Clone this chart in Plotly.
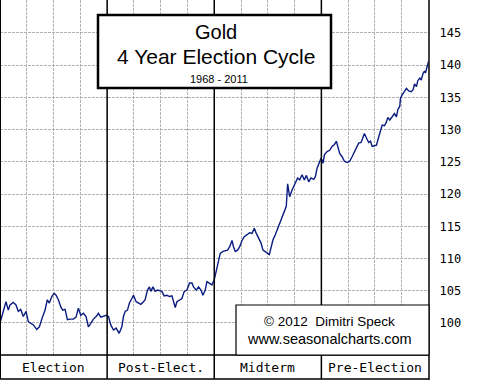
import plotly.graph_objects as go

# Position in the 4-year cycle, in months (0 = start of election year)
month = [0, 0.30, 0.67, 0.93, 1.12, 1.49, 1.79, 2.05, 2.32, 2.61, 2.92, 3.17, 3.44, 3.73, 4.12, 4.41, 4.68,
         5.05, 5.30, 5.53, 5.80, 6.06, 6.28, 6.54, 6.81, 7.03, 7.29, 7.55, 7.85, 8.22, 8.52, 8.78, 9.05,
         9.34, 9.64, 9.90, 10.17, 10.46, 10.77, 11.02, 11.29, 11.58, 11.89, 12.15, 12.41, 12.71, 13.01,
         13.35, 13.65, 13.83, 14.02, 14.28, 14.50, 14.77, 14.95, 15.25, 15.51, 15.78, 16.07, 16.26, 16.52,
         16.74, 16.90, 17.13, 17.38, 17.64, 18.13, 18.39, 18.70, 18.99, 19.26, 19.44, 19.63, 19.82, 20.11,
         20.38, 20.64, 20.94, 21.23, 21.50, 21.68, 21.98, 22.24, 22.51, 22.73, 22.99, 23.18, 23.47, 23.74,
         24.00, 24.22, 24.48, 24.67, 24.98, 25.23, 25.49, 25.72, 25.99, 26.16, 26.36, 26.61, 26.84, 27.11,
         27.36, 27.67, 27.96, 28.23, 28.49, 28.71, 28.97, 29.24, 29.46, 29.72, 29.98, 30.17, 30.36, 30.58,
         30.84, 31.03, 31.21, 31.59, 31.85, 32.07, 32.22, 32.45, 32.71, 33.08, 33.34, 33.57, 33.84, 34.09,
         34.32, 34.58, 34.84, 35.14, 35.33, 35.52, 35.81, 35.97, 36.19, 36.34, 36.64, 36.93, 37.20, 37.46,
         37.68, 37.83, 38.05, 38.32, 38.58, 38.88, 39.17, 39.44, 39.62, 39.93, 40.18, 40.45, 40.68, 40.82,
         41.05, 41.30, 41.50, 41.69, 41.94, 42.17, 42.43, 42.62, 42.81, 43.07, 43.29, 43.44, 43.66, 43.93,
         44.19, 44.41, 44.56, 44.78, 44.86, 45.05, 45.31, 45.53, 45.79, 46.06, 46.28, 46.43, 46.65, 46.80,
         47.02, 47.18, 47.41, 47.55, 47.66, 47.85, 48.00]

gold_index = [100.0, 101.5, 103.3, 102.0, 102.8, 103.2, 102.8, 101.8, 102.1, 101.0, 101.8, 100.2, 100.0, 99.7,
              99.0, 99.4, 100.6, 102.0, 103.6, 103.1, 104.1, 104.6, 104.3, 103.6, 102.5, 102.0, 102.1, 100.5,
              100.6, 100.6, 100.9, 102.3, 101.2, 101.5, 101.0, 99.4, 99.95, 100.6, 101.0, 101.5, 100.9, 101.0,
              101.2, 101.0, 99.7, 98.9, 99.2, 98.4, 99.4, 101.0, 101.8, 102.0, 103.1, 103.8, 104.3, 103.3,
              103.1, 102.9, 103.3, 103.6, 105.1, 105.6, 104.9, 105.6, 104.9, 105.1, 104.9, 104.2, 104.3, 104.1,
              104.2, 103.3, 102.4, 103.3, 103.6, 103.8, 104.9, 105.1, 106.2, 106.2, 105.6, 105.1, 105.6, 105.1,
              104.3, 105.1, 106.4, 106.1, 105.9, 106.7, 108.2, 109.5, 110.8, 111.1, 111.2, 111.3, 111.8, 112.8,
              111.8, 111.1, 111.3, 111.8, 112.8, 113.4, 113.7, 114.0, 113.9, 114.7, 113.9, 113.1, 112.4, 111.3,
              111.1, 110.8, 110.6, 111.6, 112.9, 113.7, 114.4, 115.2, 116.5, 117.3, 118.1, 121.6, 119.6, 120.6,
              121.9, 122.5, 122.2, 123.0, 122.2, 122.9, 121.9, 122.5, 122.3, 122.7, 124.0, 125.1, 125.6, 124.8,
              126.1, 126.6, 126.8, 127.4, 127.7, 128.2, 127.4, 126.3, 125.8, 125.1, 124.9, 125.1, 125.8, 126.3,
              127.0, 127.9, 128.0, 128.8, 129.4, 128.7, 128.0, 128.2, 127.4, 127.5, 127.6, 128.9, 129.7, 130.7,
              130.6, 131.2, 131.9, 131.5, 132.0, 132.5, 132.0, 133.1, 133.6, 134.9, 135.4, 135.9, 136.4, 136.0,
              135.9, 136.2, 137.1, 136.7, 137.6, 138.0, 137.7, 138.8, 139.1, 138.8, 139.8, 140.6]

phase_labels = ["Election", "Post-Elect.", "Midterm", "Pre-Election"]
phase_centers = [6, 18, 30, 42]
phase_bounds = [12, 24, 36]
y_ticks = [100, 105, 110, 115, 120, 125, 130, 135, 140, 145]

W, H = 480, 380
x_end = 428.5 / W
y_bot = 25 / H

fig = go.Figure()
fig.add_trace(go.Scatter(x=month, y=gold_index, mode="lines",
                         line=dict(color="#0b1c80", width=1.4), hoverinfo="skip",
                         showlegend=False))

fig.update_layout(
    width=W, height=H, margin=dict(l=0, r=0, t=0, b=0),
    paper_bgcolor="white", plot_bgcolor="white",
    xaxis=dict(domain=[0, x_end], range=[0, 48], tick0=0, dtick=3, showticklabels=False,
               showgrid=True, gridcolor="#b2b2b2", griddash="3px,1px", gridwidth=1,
               zeroline=False, showline=False, ticks="", fixedrange=True),
    yaxis=dict(domain=[y_bot, 1], range=[95.03, 150.12], side="right", tickvals=y_ticks,
               showgrid=True, gridcolor="#b2b2b2", griddash="3px,1px", gridwidth=1,
               zeroline=False, showline=False, ticks="", ticklabelstandoff=10, fixedrange=True,
               tickfont=dict(family="DejaVu Sans Mono", size=12, color="black")),
)

shapes = []
# plot frame
shapes.append(dict(type="line", xref="paper", yref="paper", x0=0, x1=0, y0=1/H, y1=1,
                   line=dict(color="black", width=2)))
shapes.append(dict(type="line", xref="paper", yref="paper", x0=429/W, x1=429/W, y0=0, y1=1,
                   line=dict(color="black", width=1.5)))
shapes.append(dict(type="line", xref="paper", yref="paper", x0=0, x1=429/W, y0=y_bot, y1=y_bot,
                   line=dict(color="black", width=1.5)))
shapes.append(dict(type="line", xref="paper", yref="paper", x0=0, x1=429/W, y0=1/H, y1=1/H,
                   line=dict(color="black", width=1.5)))
for b in phase_bounds:
    shapes.append(dict(type="line", xref="x", yref="paper", x0=b, x1=b, y0=1/H, y1=1,
                       line=dict(color="black", width=1.5)))
# title box
shapes.append(dict(type="rect", xref="paper", yref="paper", x0=98/W, x1=331/W,
                   y0=1 - 88/H, y1=1 - 15/H, fillcolor="white",
                   line=dict(color="black", width=2.5)))
# copyright box
shapes.append(dict(type="rect", xref="paper", yref="paper", x0=236/W, x1=429/W,
                   y0=y_bot, y1=1 - 305/H, fillcolor="white",
                   line=dict(color="black", width=1.2)))
fig.update_layout(shapes=shapes)

ann = []
ann.append(dict(text="Gold", x=216/W, y=1 - 32/H, xref="paper", yref="paper", showarrow=False,
                font=dict(family="Liberation Sans", size=20, color="black"), xanchor="center", yanchor="middle"))
ann.append(dict(text="4 Year Election Cycle", x=216/W, y=1 - 56/H, xref="paper", yref="paper", showarrow=False,
                font=dict(family="Liberation Sans", size=21, color="black"), xanchor="center", yanchor="middle"))
ann.append(dict(text="1968 - 2011", x=219/W, y=1 - 79/H, xref="paper", yref="paper", showarrow=False,
                font=dict(family="Liberation Sans", size=11, color="black"), xanchor="center", yanchor="middle"))
ann.append(dict(text="© 2012  Dimitri Speck", x=329/W, y=1 - 321/H, xref="paper", yref="paper", showarrow=False,
                font=dict(family="Liberation Sans", size=13.5, color="black"), xanchor="center", yanchor="middle"))
ann.append(dict(text="www.seasonalcharts.com", x=329.5/W, y=1 - 339/H, xref="paper", yref="paper", showarrow=False,
                font=dict(family="Liberation Sans", size=14.5, color="black"), xanchor="center", yanchor="middle"))
for lab, c in zip(phase_labels, phase_centers):
    ann.append(dict(text=lab, x=c, y=1 - 367/H, xref="x", yref="paper", showarrow=False,
                    font=dict(family="DejaVu Sans Mono", size=13, color="black"),
                    xanchor="center", yanchor="middle"))
fig.update_layout(annotations=ann)

fig.write_html("out.html", config={"displayModeBar": False, "staticPlot": True},
               post_script="document.body.style.margin='0px';document.body.style.padding='0px';")
